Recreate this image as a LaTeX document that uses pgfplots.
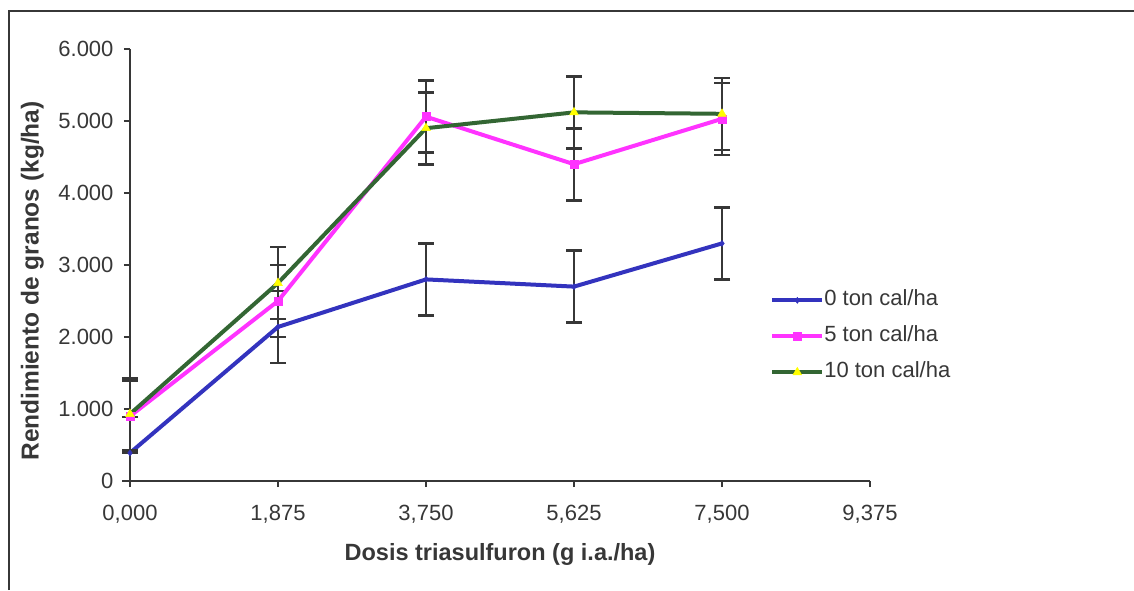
\documentclass[border=0pt]{standalone}
\usepackage{pgfplots}
\pgfplotsset{compat=1.18}
\usepackage{fontspec}
\setmainfont{Liberation Sans}
\definecolor{serA}{RGB}{51,51,190}
\definecolor{serB}{RGB}{255,51,255}
\definecolor{serC}{RGB}{51,102,51}
\definecolor{axgray}{RGB}{55,55,55}
\definecolor{triY}{RGB}{255,255,0}

\begin{document}
\begin{tikzpicture}[x=1pt,y=1pt]
\useasboundingbox (-130,-109) rectangle (1004,481);
% chart area frame (left and top edges)
\draw[axgray, line width=1.5pt] (-121,-109) -- (-121,470) -- (1004,470);
\begin{axis}[
  at={(0,0)}, anchor=origin,
  scale only axis, width=740pt, height=432pt,
  xmin=0, xmax=9.375, ymin=0, ymax=6000,
  clip=false,
  axis x line*=bottom, axis y line*=left,
  axis line style={axgray, line width=1.2pt, -},
  tick style={axgray, line width=1.2pt},
  tick align=outside, major tick length=6pt,
  xtick={0,1.875,3.75,5.625,7.5,9.375},
  xticklabels={{0,000},{1,875},{3,750},{5,625},{7,500},{9,375}},
  ytick={0,1000,2000,3000,4000,5000,6000},
  yticklabels={0,{1.000},{2.000},{3.000},{4.000},{5.000},{6.000}},
  /pgf/number format/assume math mode=true,
  ticklabel style={font=\fontsize{22}{26}\selectfont, text=axgray},
  xticklabel style={yshift=-15pt},
  yticklabel style={xshift=-7pt},
  xlabel={Dosis triasulfuron (g i.a./ha)},
  ylabel={Rendimiento de granos (kg/ha)},
  label style={text=axgray},
  xlabel style={font=\fontsize{23.5}{27}\selectfont\bfseries,
    at={(axis description cs:0.5,-0.171)}, anchor=center},
  ylabel style={font=\fontsize{24.5}{28}\selectfont\bfseries,
    at={(axis description cs:-0.132,0.463)}, anchor=center},
  legend style={at={(axis description cs:0.865,0.443)}, anchor=north west,
    draw=none, fill=none, inner sep=0pt, row sep=15pt,
    nodes={inner sep=0pt, text height=16pt, text depth=5pt,
      font=\fontsize{22}{26}\selectfont, text=axgray}},
  legend cell align=left,
  legend image code/.code={%
    \draw[mark repeat=2, mark phase=2, #1] plot coordinates {(0pt,0pt) (25pt,0pt) (50pt,0pt)};
    \hspace*{4pt}},
  every axis plot/.append style={line width=4pt},
  error bars/error bar style={axgray, line width=2.6pt},
  error bars/error mark options={axgray, rotate=90, mark size=8pt, line width=2.6pt},
]
\addplot[serA, mark=diamond*, mark size=3pt, mark options={fill=serA, draw=serA, line width=0.5pt},
  error bars/.cd, y dir=both, y explicit]
  coordinates {(0,390) += (0,500) -= (0,390)
               (1.875,2140) +- (0,500) (3.75,2800) +- (0,500)
               (5.625,2700) +- (0,500) (7.5,3300) +- (0,500)};
\addlegendentry{0 ton cal/ha}
\addplot[serB, mark=square*, mark size=4pt, mark options={fill=serB, draw=serB, line width=0.5pt},
  error bars/.cd, y dir=both, y fixed=500]
  coordinates {(0,900) (1.875,2500) (3.75,5060) (5.625,4400) (7.5,5030)};
\addlegendentry{5 ton cal/ha}
\addplot[serC, mark=triangle*, mark size=5pt, mark options={fill=triY, draw=triY, line width=0.5pt},
  error bars/.cd, y dir=both, y fixed=500]
  coordinates {(0,930) (1.875,2750) (3.75,4900) (5.625,5120) (7.5,5100)};
\addlegendentry{10 ton cal/ha}
\end{axis}
\end{tikzpicture}
\end{document}
